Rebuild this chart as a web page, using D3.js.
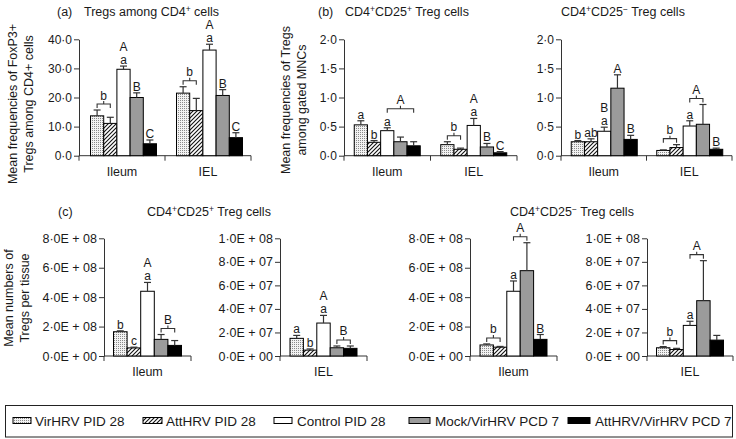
<!DOCTYPE html>
<html><head><meta charset="utf-8">
<script src="https://cdn.jsdelivr.net/npm/d3@7"></script>
<style>
body{margin:0;background:#fff}
text{font-family:"Liberation Sans",Arial,Helvetica,sans-serif;fill:#1a1a1a}
</style>
</head><body>
<svg id="chart" width="736" height="439"></svg>
<script>
// ---------------- DATA ----------------
const groups = ["VirHRV PID 28", "AttHRV PID 28", "Control PID 28", "Mock/VirHRV PCD 7", "AttHRV/VirHRV PCD 7"];
const sites = ["Ileum", "IEL"];

// (a) Tregs among CD4+ cells (%)
const aIleumMean = [13.7, 11.1, 29.7, 20.0, 4.1];
const aIleumSem  = [2.0, 2.1, 1.1, 1.6, 1.3];
const aIelMean   = [21.5, 15.5, 36.3, 20.7, 6.2];
const aIelSem    = [2.2, 4.2, 2.0, 2.0, 1.7];
const aTicks     = [0, 10, 20, 30, 40];

// (b) CD4+CD25+ Treg cells (% of gated MNCs)
const bPosIleumMean = [0.53, 0.23, 0.43, 0.24, 0.17];
const bPosIleumSem  = [0.07, 0.03, 0.05, 0.08, 0.07];
const bPosIelMean   = [0.19, 0.11, 0.52, 0.15, 0.05];
const bPosIelSem    = [0.05, 0.02, 0.12, 0.06, 0.02];
// (b) CD4+CD25- Treg cells
const bNegIleumMean = [0.24, 0.24, 0.42, 1.16, 0.28];
const bNegIleumSem  = [0.02, 0.05, 0.07, 0.23, 0.07];
const bNegIelMean   = [0.09, 0.14, 0.51, 0.54, 0.11];
const bNegIelSem    = [0.01, 0.05, 0.09, 0.34, 0.02];
const bTicks        = [0, 0.5, 1.0, 1.5, 2.0];

// (c) numbers per tissue
const cPosIleumMean = [1.65e8, 0.55e8, 4.4e8, 1.13e8, 0.72e8];
const cPosIleumSem  = [0.06e8, 0.05e8, 0.6e8, 0.33e8, 0.33e8];
const cPosIelMean   = [1.5e7, 0.5e7, 2.8e7, 0.7e7, 0.65e7];
const cPosIelSem    = [0.25e7, 0.1e7, 0.65e7, 0.15e7, 0.2e7];
const cNegIleumMean = [0.75e8, 0.6e8, 4.4e8, 5.8e8, 1.13e8];
const cNegIleumSem  = [0.07e8, 0.05e8, 0.7e8, 1.9e8, 0.33e8];
const cNegIelMean   = [0.7e7, 0.55e7, 2.6e7, 4.7e7, 1.35e7];
const cNegIelSem    = [0.1e7, 0.1e7, 0.35e7, 3.4e7, 0.4e7];
const cIleumTicks   = [0, 2e8, 4e8, 6e8, 8e8];
const cIelTicks     = [0, 2e7, 4e7, 6e7, 8e7, 1e8];

// significance letters: [site, firstBar, lastBar, letter]
const aLetters = [["Ileum",0,1,"b"],["Ileum",2,2,"a"],["Ileum",2,2,"A"],["Ileum",3,3,"B"],["Ileum",4,4,"C"],
                  ["IEL",0,1,"b"],["IEL",2,2,"a"],["IEL",2,2,"A"],["IEL",3,3,"B"],["IEL",4,4,"C"]];
const bPosLetters = [["Ileum",0,0,"a"],["Ileum",1,1,"b"],["Ileum",2,2,"a"],["Ileum",2,4,"A"],
                     ["IEL",0,1,"b"],["IEL",2,2,"a"],["IEL",2,2,"A"],["IEL",3,3,"B"],["IEL",4,4,"C"]];
const bNegLetters = [["Ileum",0,0,"b"],["Ileum",1,1,"ab"],["Ileum",2,2,"a"],["Ileum",2,2,"B"],["Ileum",3,3,"A"],["Ileum",4,4,"B"],
                     ["IEL",0,1,"b"],["IEL",2,2,"a"],["IEL",2,3,"A"],["IEL",4,4,"B"]];
const cPosIleumLetters = [["Ileum",0,0,"b"],["Ileum",1,1,"c"],["Ileum",2,2,"a"],["Ileum",2,2,"A"],["Ileum",3,4,"B"]];
const cPosIelLetters   = [["IEL",0,0,"a"],["IEL",1,1,"b"],["IEL",2,2,"a"],["IEL",2,2,"A"],["IEL",3,4,"B"]];
const cNegIleumLetters = [["Ileum",0,1,"b"],["Ileum",2,2,"a"],["Ileum",2,3,"A"],["Ileum",4,4,"B"]];
const cNegIelLetters   = [["IEL",0,1,"b"],["IEL",2,2,"a"],["IEL",2,3,"A"]];

// ---------------- DRAWING ----------------
const svg = d3.select("#chart");
const defs = svg.append("defs");
// stipple pattern
const dots = defs.append("pattern").attr("id","dots").attr("patternUnits","userSpaceOnUse")
  .attr("width",2).attr("height",2);
dots.append("rect").attr("width",2).attr("height",2).attr("fill","#f2f2f2");
dots.append("rect").attr("width",1).attr("height",1).attr("fill","#8a8a8a");
// hatch pattern
const hatch = defs.append("pattern").attr("id","hatch").attr("patternUnits","userSpaceOnUse")
  .attr("width",4).attr("height",4);
hatch.append("rect").attr("width",4).attr("height",4).attr("fill","#fff");
hatch.append("path").attr("d","M-1,1 l2,-2 M0,4 l4,-4 M3,5 l2,-2").attr("stroke","#111").attr("stroke-width",1.1);

const fills = ["url(#dots)", "url(#hatch)", "#ffffff", "#9b9b9b", "#000000"];
const axisColor = "#333";
const letterSize = 12;
const letterStep = 11;

const fmtDec = v => d3.format(".1f")(v).replace(".", "\u00b7");
const fmtSci = v => {
  if (v === 0) return "0\u00b70E + 00";
  const e = Math.floor(Math.log10(v) + 1e-9);
  const m = v / Math.pow(10, e);
  return m.toFixed(1).replace(".", "\u00b7") + "E + " + String(e).padStart(2, "0");
};

function richText(g, x, y, parts, size, anchor) {
  const t = g.append("text").attr("x", x).attr("y", y).attr("font-size", size)
    .attr("text-anchor", anchor || "start");
  let sup = false;
  parts.forEach(p => {
    const isSup = Array.isArray(p);
    const s = isSup ? p[0] : p;
    const ts = t.append("tspan").text(s);
    if (isSup && !sup) { ts.attr("dy", -4).attr("font-size", size * 0.68); sup = true; }
    else if (isSup) { ts.attr("font-size", size * 0.68); }
    else if (sup) { ts.attr("dy", 4); sup = false; }
  });
  return t;
}

function panel(cfg) {
  const g = svg.append("g");
  const y = d3.scaleLinear().domain([0, cfg.ticks[cfg.ticks.length - 1]]).range([cfg.y0, cfg.y1]);
  const outer = d3.scaleBand().domain(cfg.sites).range([cfg.x0, cfg.x1]).padding(0);

  // y axis
  const ya = g.append("g").attr("transform", `translate(${cfg.x0},0)`)
    .call(d3.axisLeft(y).tickValues(cfg.ticks).tickFormat(cfg.fmt).tickSize(5).tickSizeOuter(0));
  ya.select(".domain").attr("stroke", axisColor);
  ya.selectAll(".tick line").attr("stroke", axisColor);
  ya.selectAll(".tick text").attr("font-size", cfg.tickSize || 12)
    .attr("font-family", '"Liberation Sans",Arial,sans-serif').attr("fill", "#1a1a1a").attr("x", -7);

  // x axis
  g.append("line").attr("x1", cfg.x0).attr("x2", cfg.x1).attr("y1", cfg.y0).attr("y2", cfg.y0)
    .attr("stroke", axisColor);
  const bounds = [cfg.x0].concat(cfg.sites.map(s => outer(s) + outer.bandwidth()));
  g.selectAll(".xt").data(bounds).enter().append("line")
    .attr("x1", d => d).attr("x2", d => d).attr("y1", cfg.y0).attr("y2", cfg.y0 + 5).attr("stroke", axisColor);
  g.selectAll(".xl").data(cfg.sites).enter().append("text")
    .attr("x", d => outer(d) + outer.bandwidth() / 2).attr("y", cfg.y0 + 20)
    .attr("text-anchor", "middle").attr("font-size", 12.5).text(d => d);

  const occ = {};
  const inner = {};
  cfg.sites.forEach((s, si) => {
    const c = outer(s) + outer.bandwidth() / 2 + (cfg.shift || 0);
    const xi = d3.scaleBand().domain(d3.range(5)).range([c - cfg.gw / 2, c + cfg.gw / 2]).padding(0);
    inner[s] = xi;
    const mean = cfg.means[si], sem = cfg.sems[si];
    occ[s] = [];
    const bg = g.append("g");
    bg.selectAll("rect").data(mean).enter().append("rect")
      .attr("x", (d, i) => xi(i)).attr("width", xi.bandwidth())
      .attr("y", d => y(d)).attr("height", d => y(0) - y(d))
      .attr("fill", (d, i) => fills[i]).attr("stroke", "#000").attr("stroke-width", 1);
    mean.forEach((m, i) => {
      const cx = xi(i) + xi.bandwidth() / 2;
      const top = y(m + sem[i]);
      bg.append("line").attr("x1", cx).attr("x2", cx).attr("y1", y(m)).attr("y2", top).attr("stroke", "#333").attr("stroke-width", 1.2);
      bg.append("line").attr("x1", cx - 3.5).attr("x2", cx + 3.5).attr("y1", top).attr("y2", top).attr("stroke", "#333").attr("stroke-width", 1.2);
      occ[s][i] = top;
    });
  });

  // letters
  cfg.letters.forEach(([s, a, b, txt]) => {
    const xi = inner[s];
    const cx = i => xi(i) + xi.bandwidth() / 2;
    if (a === b) {
      const base = occ[s][a] - 2;
      g.append("text").attr("x", cx(a)).attr("y", base).attr("text-anchor", "middle")
        .attr("font-size", letterSize).text(txt);
      occ[s][a] = base - letterStep;
    } else {
      let m = Infinity;
      for (let i = a; i <= b; i++) m = Math.min(m, occ[s][i]);
      const by = m - 6;
      const x1 = cx(a), x2 = cx(b), xm = (x1 + x2) / 2;
      g.append("path").attr("d", `M${x1},${by + 4} L${x1},${by} L${x2},${by} L${x2},${by + 4} M${xm},${by} L${xm},${by - 3}`)
        .attr("fill", "none").attr("stroke", "#333").attr("stroke-width", 1.1);
      const base = by - 4.5;
      g.append("text").attr("x", xm).attr("y", base).attr("text-anchor", "middle")
        .attr("font-size", letterSize).text(txt);
      for (let i = a; i <= b; i++) occ[s][i] = base - letterStep;
    }
  });
  return g;
}

// top row
panel({x0: 79, x1: 251, y0: 155.7, y1: 39.3, sites: sites, gw: 66, shift: 1.5,
  means: [aIleumMean, aIelMean], sems: [aIleumSem, aIelSem], ticks: aTicks, fmt: fmtDec, letters: aLetters});
panel({x0: 344, x1: 517, y0: 155.7, y1: 39.3, sites: sites, gw: 66,
  means: [bPosIleumMean, bPosIelMean], sems: [bPosIleumSem, bPosIelSem], ticks: bTicks, fmt: fmtDec, letters: bPosLetters});
panel({x0: 561, x1: 732, y0: 155.7, y1: 39.3, sites: sites, gw: 66, shift: 0.5,
  means: [bNegIleumMean, bNegIelMean], sems: [bNegIleumSem, bNegIelSem], ticks: bTicks, fmt: fmtDec, letters: bNegLetters});

// bottom row
panel({x0: 104, x1: 191, y0: 356, y1: 238.3, sites: ["Ileum"], gw: 68,
  means: [cPosIleumMean], sems: [cPosIleumSem], ticks: cIleumTicks, fmt: fmtSci, letters: cPosIleumLetters, tickSize: 12.5});
panel({x0: 280, x1: 367, y0: 356, y1: 238.3, sites: ["IEL"], gw: 67,
  means: [cPosIelMean], sems: [cPosIelSem], ticks: cIelTicks, fmt: fmtSci, letters: cPosIelLetters, tickSize: 12.5});
panel({x0: 470, x1: 557, y0: 356, y1: 238.3, sites: ["Ileum"], gw: 67,
  means: [cNegIleumMean], sems: [cNegIleumSem], ticks: cIleumTicks, fmt: fmtSci, letters: cNegIleumLetters, tickSize: 12.5});
panel({x0: 647, x1: 733, y0: 356, y1: 238.3, sites: ["IEL"], gw: 67,
  means: [cNegIelMean], sems: [cNegIelSem], ticks: cIelTicks, fmt: fmtSci, letters: cNegIelLetters, tickSize: 12.5});

// titles
const T = svg.append("g");
T.append("text").attr("x", 57).attr("y", 16).attr("font-size", 12.5).text("(a)");
richText(T, 84, 16, ["Tregs among CD4", ["+"], " cells"], 12.5);
T.append("text").attr("x", 318).attr("y", 16).attr("font-size", 12.5).text("(b)");
richText(T, 345, 16, ["CD4", ["+"], "CD25", ["+"], " Treg cells"], 12.5);
richText(T, 561, 16, ["CD4", ["+"], "CD25", ["\u2212"], " Treg cells"], 12.5);
T.append("text").attr("x", 58).attr("y", 216).attr("font-size", 12.5).text("(c)");
richText(T, 147, 216, ["CD4", ["+"], "CD25", ["+"], " Treg cells"], 12.5);
richText(T, 510, 216, ["CD4", ["+"], "CD25", ["\u2212"], " Treg cells"], 12.5);

// y labels
function ylab(x, y, lines) {
  lines.forEach((l, i) => {
    T.append("text").attr("transform", `translate(${x + i * 16},${y}) rotate(-90)`)
      .attr("text-anchor", "middle").attr("dy", "0.35em").attr("font-size", 12.5).text(l);
  });
}
ylab(13, 104, ["Mean frequencies of FoxP3+", "Tregs among CD4+ cells"]);
ylab(286, 100, ["Mean frequencies of Tregs", "among gated MNCs"]);
ylab(9, 298, ["Mean numbers of", "Tregs per tissue"]);

// legend
const L = svg.append("g");
L.append("rect").attr("x", 5.5).attr("y", 405.5).attr("width", 727).attr("height", 31.5)
  .attr("fill", "none").attr("stroke", "#222").attr("stroke-width", 1);
const legSwX = [13, 143, 274, 409, 568];
const legSwW = [18, 19, 18, 21, 22];
const legTxX = [35, 166, 297, 435, 595];
groups.forEach((gname, i) => {
  L.append("rect").attr("x", legSwX[i]).attr("y", 417.5).attr("width", legSwW[i]).attr("height", 6)
    .attr("fill", fills[i]).attr("stroke", "#000").attr("stroke-width", 1);
  L.append("text").attr("x", legTxX[i]).attr("y", 425.5).attr("font-size", 13.5).text(gname);
});
</script>
</body></html>
